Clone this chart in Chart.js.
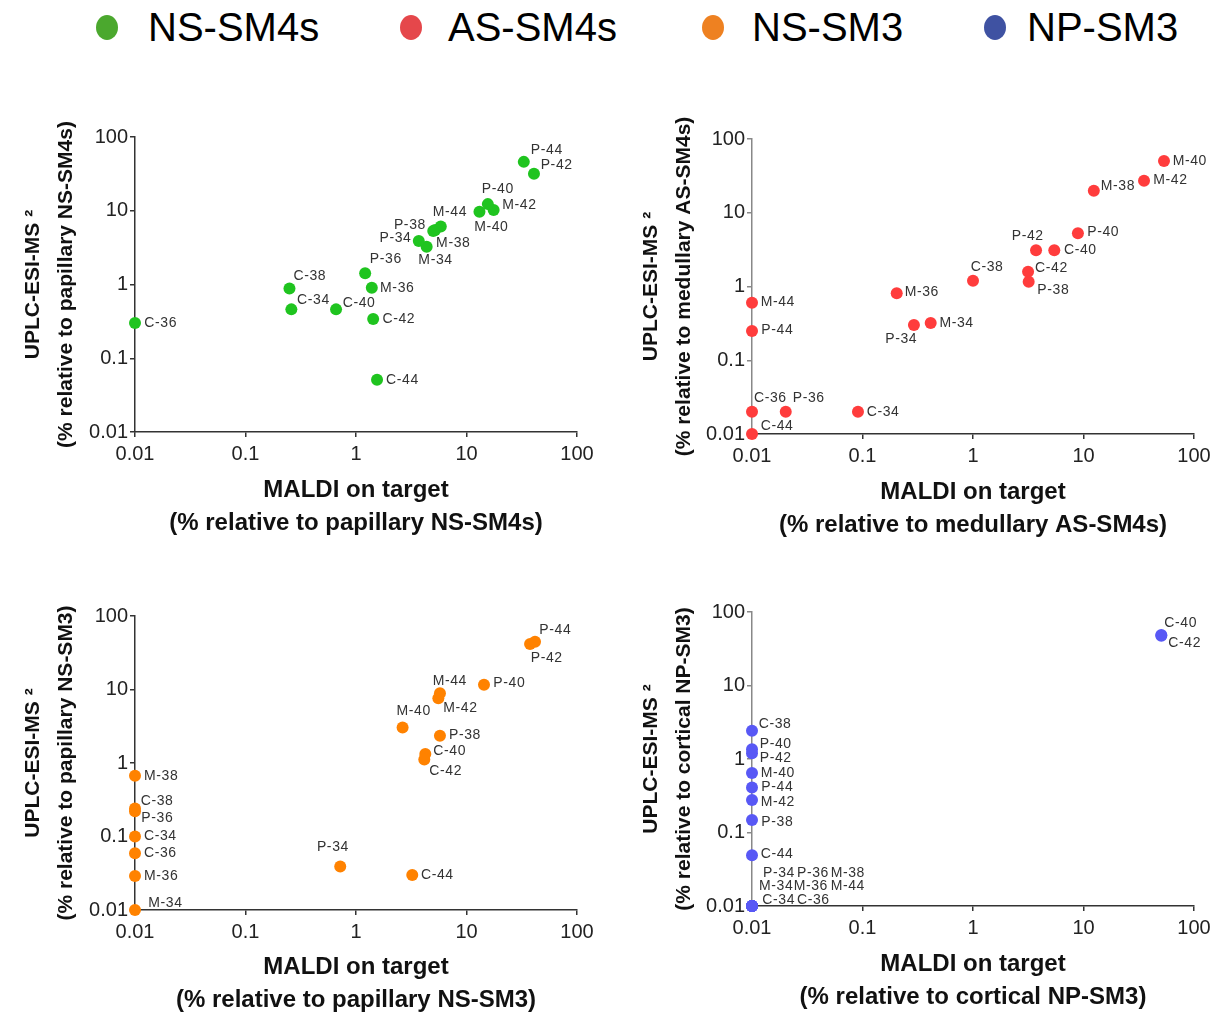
<!DOCTYPE html>
<html>
<head>
<meta charset="utf-8">
<script src="https://cdn.jsdelivr.net/npm/chart.js@4.4.1/dist/chart.umd.min.js"></script>
<style>
  body { margin: 0; background: #fff; width: 1222px; height: 1017px; position: relative; overflow: hidden;
         font-family: "Liberation Sans", Arial, sans-serif; }
  canvas { position: absolute; }
  .lg-dot { position: absolute; width: 22px; height: 25px; border-radius: 50%; }
  .lg-txt { position: absolute; font-size: 40px; line-height: 42px; color: #000; white-space: nowrap; }
</style>
</head>
<body>
<div id="legend"></div>
<canvas id="c1" width="611" height="455" style="left:0;top:95px"></canvas>
<canvas id="c2" width="611" height="455" style="left:611px;top:95px"></canvas>
<canvas id="c3" width="611" height="447" style="left:0;top:570px"></canvas>
<canvas id="c4" width="611" height="447" style="left:611px;top:570px"></canvas>
<script>
// shared axis ticks
const tickValues = [0.01, 0.1, 1, 10, 100];
const tickLabels = ['0.01', '0.1', '1', '10', '100'];

// species (same order in every panel)
const species = ['C-34', 'C-36', 'C-38', 'C-40', 'C-42', 'C-44',
                 'M-34', 'M-36', 'M-38', 'M-40', 'M-42', 'M-44',
                 'P-34', 'P-36', 'P-38', 'P-40', 'P-42', 'P-44'];

// legend
const legendNames = ['NS-SM4s', 'AS-SM4s', 'NS-SM3', 'NP-SM3'];
const legendColors = ['#4ba82e', '#e5474b', '#ee8121', '#3f52a2'];

// NS-SM4s (papillary)
const ns4X = [0.26, 0.01, 0.25, 0.66, 1.43, 1.55, 4.36, 1.39, 5.2, 13.1, 17.6, 5.85, 3.7, 1.21, 5.0, 15.6, 40.8, 33];
const ns4Y = [0.46, 0.30, 0.88, 0.46, 0.34, 0.051, 3.26, 0.905, 5.5, 9.7, 10.2, 6.1, 3.9, 1.42, 5.3, 12.3, 31.8, 46];

// AS-SM4s (medullary)
const as4X = [0.091, 0.01, 1.0, 5.44, 3.15, 0.01, 0.414, 0.204, 12.4, 53.5, 35.3, 0.01, 0.292, 0.0202, 3.19, 8.9, 3.72, 0.01];
const as4Y = [0.02, 0.02, 1.2, 3.1, 1.59, 0.01, 0.32, 0.81, 19.9, 50.3, 27.2, 0.6, 0.30, 0.02, 1.16, 5.26, 3.1, 0.25];

// NS-SM3 (papillary)
const ns3X = [0.01, 0.01, 0.01, 4.24, 4.15, 3.23, 0.01, 0.01, 0.01, 2.64, 5.56, 5.75, 0.72, 0.01, 5.75, 14.4, 37.6, 41.7];
const ns3Y = [0.1, 0.059, 0.24, 1.33, 1.12, 0.03, 0.01, 0.029, 0.67, 3.03, 7.6, 8.9, 0.039, 0.22, 2.35, 11.6, 41.6, 44.7];

// NP-SM3 (cortical)
const np3X = [0.01, 0.01, 0.01, 50.6, 50.6, 0.01, 0.01, 0.01, 0.01, 0.01, 0.01, 0.01, 0.01, 0.01, 0.01, 0.01, 0.01, 0.01];
const np3Y = [0.01, 0.01, 2.43, 48.6, 47.5, 0.049, 0.01, 0.01, 0.01, 0.645, 0.277, 0.01, 0.01, 0.01, 0.148, 1.36, 1.2, 0.41];

// label placement next to each point (px from point centre)
const ns4Off = [[5.7,-9.3],[9.3,0],[4,-12],[6.7,-6.3],[9.3,0],[9,0],[-8.3,13.3],[8.3,0],[1,13.3],[-5.3,15],[8.7,-5.3],[-8,-14.3],
                [-39.3,-2.7],[4.7,-14],[-39.3,-6],[-6,-14.7],[6.7,-9],[7,-11.7]];
const as4Off = [[8.7,0],[2,-14],[-2.3,-14],[9.7,0],[7,-3.3],[8.7,-8],[8.7,0],[8,-1],[7,-5],[8.7,0],[9.3,-0.7],[8.7,-1],
                [-28.7,14.3],[7,-14],[8.7,8.3],[9.3,-1],[-24.3,-13.7],[9.3,-1]];
const ns3Off = [[9,0],[9,0],[5.7,-7.7],[8,-2.3],[5,11.7],[8.7,0],[13.3,-6.7],[9,0],[9,0],[-6,-16],[5,10],[-7.3,-12.3],
                [-23.3,-19],[6.3,6.7],[9,-0.7],[9.3,-1.3],[0.7,14.3],[4.3,-11.7]];
const np3Off = [[10.3,-6.3],[45,-6.3],[6.7,-6.3],[3,-12.3],[7,7.3],[8.7,-1.3],[7,-19.7],[41.7,-19.7],[78.7,-33],[8.7,0],[8.7,1.7],[78.7,-19.7],
                [11,-33],[45,-33],[9.3,1.7],[7.7,-5],[7.7,4.5],[9.3,0]];

const FONT = '"Liberation Sans", Arial, sans-serif';

// legend at the top
const legendLeft = [107, 411, 713, 995];
const legendTextLeft = [148, 448, 752, 1027];
const lg = document.getElementById('legend');
legendNames.forEach((name, i) => {
    const dot = document.createElement('div');
    dot.className = 'lg-dot';
    dot.style.left = (legendLeft[i] - 11) + 'px';
    dot.style.top = '15px';
    dot.style.background = legendColors[i];
    lg.appendChild(dot);
    const txt = document.createElement('div');
    txt.className = 'lg-txt';
    txt.style.left = legendTextLeft[i] + 'px';
    txt.style.top = '6px';
    txt.textContent = name;
    lg.appendChild(txt);
});

// draws the species name beside each point
const pointLabels = {
    id: 'pointLabels',
    afterDatasetsDraw(chart) {
        const ds = chart.data.datasets[0];
        const pts = chart.getDatasetMeta(0).data;
        const ctx = chart.ctx;
        ctx.save();
        ctx.font = '14px ' + FONT;
        ctx.letterSpacing = '0.6px';
        ctx.fillStyle = '#333';
        ctx.textAlign = 'left';
        ctx.textBaseline = 'middle';
        pts.forEach((p, i) => {
            const off = ds.labelOffsets[i];
            ctx.fillText(ds.names[i], p.x + off[0], p.y + off[1]);
        });
        ctx.restore();
    }
};

function makePanel(id, p) {
    const logAxis = (color, pad) => ({
        type: 'logarithmic',
        min: 0.01,
        max: 100,
        afterBuildTicks: s => { s.ticks = tickValues.map(v => ({ value: v })); },
        ticks: {
            autoSkip: false, maxRotation: 0, padding: pad, color: '#222',
            font: { family: FONT, size: 20 },
            callback: (v, i) => tickLabels[i]
        },
        grid: { drawOnChartArea: false, drawTicks: true, tickLength: 5, color: color, lineWidth: 1.5 },
        border: { display: true, color: color, width: 1.5 }
    });

    const xAxis = logAxis('#333', 5);
    xAxis.afterFit = s => { s.height = p.xAxisH; };
    xAxis.title = { display: true, text: p.xTitle, color: '#111',
                    font: { family: FONT, size: 24, weight: 'bold', lineHeight: 1.375 },
                    padding: { top: 0, bottom: p.xTitlePad } };

    const yAxis = logAxis(p.yColor, 2);
    yAxis.afterFit = s => { s.width = p.yAxisW; };
    yAxis.title = { display: true, text: p.yTitle, color: '#111',
                    font: { family: FONT, size: 21, weight: 'bold', lineHeight: 1.57 },
                    padding: { top: p.yTitlePad, bottom: 0 } };

    new Chart(document.getElementById(id), {
        type: 'scatter',
        data: {
            datasets: [{
                data: p.xs.map((x, i) => ({ x: x, y: p.ys[i] })),
                names: species,
                labelOffsets: p.offsets,
                backgroundColor: p.color,
                borderColor: p.color,
                borderWidth: 0,
                pointRadius: 6,
                pointHoverRadius: 6,
                clip: false
            }]
        },
        options: {
            responsive: false,
            animation: false,
            events: [],
            layout: { padding: { left: 0, right: p.padRight, top: p.padTop, bottom: 0 } },
            plugins: { legend: { display: false }, tooltip: { enabled: false } },
            scales: { x: xAxis, y: yAxis }
        },
        plugins: [pointLabels]
    });
}

makePanel('c1', {
    xs: ns4X, ys: ns4Y, offsets: ns4Off, color: '#1fc41f', yColor: '#333',
    padTop: 42, padRight: 34, yAxisW: 135, xAxisH: 118, xTitlePad: 10.5, yTitlePad: 17,
    xTitle: ['MALDI on target', '(% relative to papillary NS-SM4s)'],
    yTitle: ['UPLC-ESI-MS ²', '(% relative to papillary NS-SM4s)']
});
makePanel('c2', {
    xs: as4X, ys: as4Y, offsets: as4Off, color: '#ff3c3c', yColor: '#888',
    padTop: 44, padRight: 28, yAxisW: 141, xAxisH: 116, xTitlePad: 8.5, yTitlePad: 23.5,
    xTitle: ['MALDI on target', '(% relative to medullary AS-SM4s)'],
    yTitle: ['UPLC-ESI-MS ²', '(% relative to medullary AS-SM4s)']
});
makePanel('c3', {
    xs: ns3X, ys: ns3Y, offsets: ns3Off, color: '#ff8200', yColor: '#333',
    padTop: 46, padRight: 34, yAxisW: 135, xAxisH: 107, xTitlePad: 0, yTitlePad: 17,
    xTitle: ['MALDI on target', '(% relative to papillary NS-SM3)'],
    yTitle: ['UPLC-ESI-MS ²', '(% relative to papillary NS-SM3)']
});
makePanel('c4', {
    xs: np3X, ys: np3Y, offsets: np3Off, color: '#5858f5', yColor: '#888',
    padTop: 42, padRight: 28, yAxisW: 141, xAxisH: 111, xTitlePad: 3.5, yTitlePad: 23.5,
    xTitle: ['MALDI on target', '(% relative to cortical NP-SM3)'],
    yTitle: ['UPLC-ESI-MS ²', '(% relative to cortical NP-SM3)']
});
</script>
</body>
</html>
